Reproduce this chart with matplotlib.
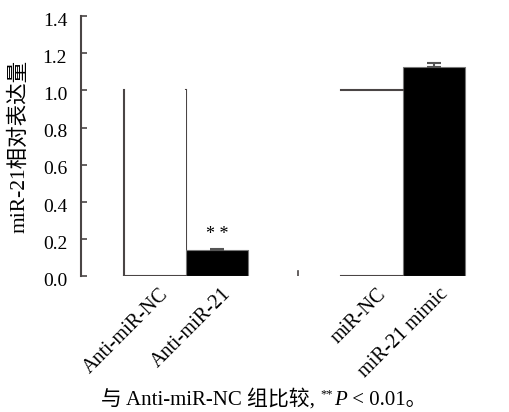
import matplotlib
matplotlib.use('Agg')
import matplotlib.pyplot as plt
from matplotlib.transforms import ScaledTranslation

plt.rcParams['font.family'] = ['Liberation Serif', 'Noto Sans CJK SC']

groups = ['Anti-miR-NC', 'Anti-miR-21', 'miR-NC', 'miR-21 mimic']
positions = [0, 1, 3.5, 4.5]
values = [1.0, 0.14, 1.0, 1.125]
errors = [0, 0.009, 0, 0.02]
fills = ['white', 'black', 'white', 'black']
gap_tick = 2.3

edge = '#4a4545'

fig = plt.figure(figsize=(5.1, 4.12), dpi=100)
ax = fig.add_axes([0.159, 0.329, 0.778, 0.632])

bars = ax.bar(positions, values, width=1.0, color=fills, edgecolor='none', zorder=2)
for i, b in enumerate(bars):
    if fills[i] == 'black':
        b.set_edgecolor('#777777')
        b.set_linewidth(0.8)
        ax.errorbar(positions[i], values[i], yerr=[[0], [errors[i]]], fmt='none',
                    ecolor='#555555', elinewidth=1.5, capsize=5, capthick=1.5, zorder=3)

# white bars: the original only shows some of their edges
x0, w, h = bars[0].get_x(), bars[0].get_width(), bars[0].get_height()
ax.plot([x0, x0], [0, h], color=edge, lw=1.5, zorder=3)
ax.plot([x0 + w, x0 + w], [0, h], color=edge, lw=1.5, zorder=1)
ax.plot([x0, x0 + w], [0, 0], color=edge, lw=1.5, zorder=3)
x0, w, h = bars[2].get_x(), bars[2].get_width(), bars[2].get_height()
ax.plot([x0, x0 + w], [h, h], color=edge, lw=1.5, zorder=3)
ax.plot([x0, x0 + w], [0, 0], color=edge, lw=1.5, zorder=3)

ax.text(positions[1], values[1] + errors[1] + 0.03, '* *', ha='center', va='bottom', fontsize=13)

# little stray tick between the two groups
ax.plot([gap_tick, gap_tick], [0.0, 0.03], color=edge, lw=1.2)

ax.set_xlim(-1.2, 5.2)
ax.set_ylim(0, 1.4)
ax.set_yticks([0.0, 0.2, 0.4, 0.6, 0.8, 1.0, 1.2, 1.4])
ax.set_yticklabels(['0.0', '0.2', '0.4', '0.6', '0.8', '1.0', '1.2', '1.4'], fontsize=14)
ax.tick_params(axis='y', direction='in', length=4, width=1.2, color=edge, pad=10)
down = ScaledTranslation(0, -3 / 100, fig.dpi_scale_trans)
for lab in ax.get_yticklabels():
    lab.set_transform(lab.get_transform() + down)
ax.set_xticks(positions)
ax.set_xticklabels(groups, rotation=45, ha='right', rotation_mode='anchor', fontsize=14.5)
ax.tick_params(axis='x', length=0, pad=6)
offset = ScaledTranslation(4 / 100, 0, fig.dpi_scale_trans)
for lab in ax.get_xticklabels():
    lab.set_transform(lab.get_transform() + offset)

for s in ['top', 'right', 'bottom']:
    ax.spines[s].set_visible(False)
ax.spines['left'].set_color(edge)
ax.spines['left'].set_linewidth(1.5)

ax.set_ylabel('miR-21相对表达量', fontsize=15.5, va='center')
ax.yaxis.set_label_coords(-0.156, 0.5)

# caption
t1 = fig.text(0.198, 0.017, '与 Anti-miR-NC 组比较, ', fontsize=15, va='baseline')
t2 = ax.annotate('**', xy=(1, 0.45), xycoords=t1, xytext=(0, 0), textcoords='offset points',
                 fontsize=9, va='bottom')
t3 = ax.annotate('P', xy=(1, 0), xycoords=(t2, t1), xytext=(1, 0), textcoords='offset points',
                 fontsize=15, style='italic', va='bottom')
ax.annotate(' < 0.01。', xy=(1, 0), xycoords=t3, fontsize=15, va='bottom')

fig.savefig('out.png', dpi=100)
